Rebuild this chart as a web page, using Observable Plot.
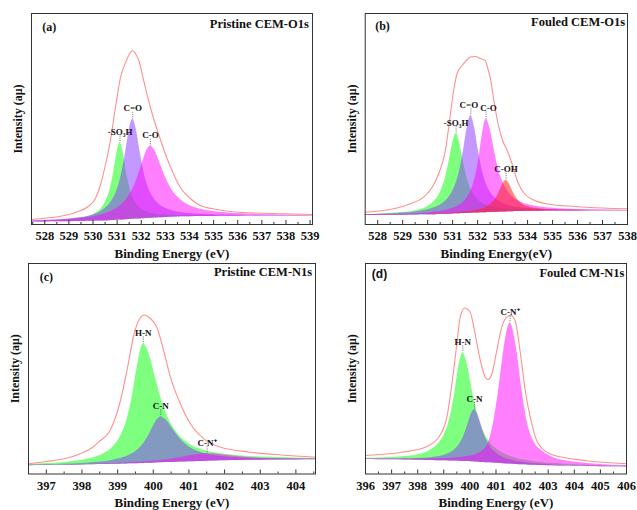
<!DOCTYPE html>
<html><head><meta charset="utf-8">
<script src="https://cdn.jsdelivr.net/npm/d3@7"></script>
<script src="https://cdn.jsdelivr.net/npm/@observablehq/plot@0.6"></script>
<style>
body{margin:0;background:#fff;}
#fig{position:relative;width:637px;height:510px;background:#fff;overflow:hidden;}
.panel{position:absolute;}
</style></head><body><div id="fig"></div>
<script>
// ---------- Panel (a) Pristine CEM-O1s ----------
const a_x = [527.45, 528, 528.5, 529, 529.5, 530, 530.3, 530.5, 530.7, 530.85, 531, 531.12, 531.25, 531.4, 531.52, 531.65, 531.8, 531.95, 532.1, 532.25, 532.38, 532.55, 532.75, 533, 533.25, 533.5, 533.75, 534, 534.5, 535, 535.5, 536, 537, 538, 539.1];
const a_base = [2.5, 2.6, 2.7, 2.8, 3.0, 3.2, 3.4, 3.6, 3.8, 4.0, 4.2, 4.4, 4.6, 4.8, 5.0, 5.2, 5.4, 5.6, 5.8, 6.0, 6.2, 6.5, 6.8, 7.1, 7.3, 7.5, 7.7, 7.8, 8.0, 8.1, 8.2, 8.3, 8.4, 8.5, 8.5];
const a_SO3H = [3.2, 3.5, 4.0, 4.7, 6.3, 9.7, 14.7, 21.4, 34.2, 51.2, 72.6, 81.4, 71.8, 50.7, 37.3, 27.6, 20.8, 16.7, 14.1, 12.4, 11.4, 10.6, 10.0, 9.5, 9.2, 9.0, 9.0, 8.9, 8.8, 8.7, 8.7, 8.7, 8.7, 8.7, 8.6];
const a_CdO = [3.5, 4.0, 4.5, 5.4, 6.9, 9.6, 12.6, 15.9, 20.8, 26.4, 34.6, 44.1, 58.2, 79.5, 96.6, 105.2, 94.6, 72.9, 53.5, 39.9, 32.0, 25.1, 20.1, 16.3, 14.0, 12.6, 11.7, 11.0, 10.2, 9.7, 9.4, 9.3, 9.0, 9.0, 8.8];
const a_CO = [3.6, 4.0, 4.5, 5.2, 6.2, 7.8, 9.3, 10.7, 12.4, 14.2, 16.3, 18.4, 21.3, 25.4, 29.7, 35.3, 43.8, 54.2, 65.6, 75.0, 78.2, 74.5, 63.1, 47.5, 35.6, 27.7, 22.6, 19.1, 15.1, 12.9, 11.7, 10.9, 10.0, 9.6, 9.3];
const a_envX = [527.45, 528, 528.6, 529.3, 529.8, 530.1, 530.3, 530.5, 530.7, 530.93, 531.14, 531.35, 531.5, 531.63, 531.78, 531.9, 532.1, 532.38, 532.75, 533.17, 533.62, 534.03, 534.45, 535.14, 536.2, 537.9, 539.1];
const a_envY = [5, 6.3, 8, 12.3, 18, 26, 39, 58, 81, 117, 147, 162, 170, 174, 170, 164, 144, 117, 88, 60, 37, 26, 19, 15, 12, 10.7, 10];
const a_labelText = ["-SO\u2083H", "C=O", "C-O"];
const a_labelX = [531.12, 531.65, 532.38];
const a_labelY = [81.4, 105.2, 78.2];
const a_labelShift = [0, 0, 0];
const a_ticks = [528, 529, 530, 531, 532, 533, 534, 535, 536, 537, 538, 539];

// ---------- Panel (b) Fouled CEM-O1s ----------
const b_x = [527.5, 528, 528.5, 529, 529.5, 530, 530.3, 530.5, 530.7, 530.85, 531, 531.14, 531.28, 531.42, 531.58, 531.73, 531.88, 532.02, 532.18, 532.34, 532.5, 532.65, 532.8, 532.95, 533.05, 533.14, 533.25, 533.4, 533.6, 533.8, 534, 534.5, 535, 535.5, 536, 537, 538];
const b_base = [9.0, 9.1, 9.2, 9.3, 9.5, 9.7, 9.85, 10.0, 10.2, 10.35, 10.5, 10.65, 10.8, 10.9, 11.1, 11.2, 11.4, 11.5, 11.7, 11.85, 12.0, 12.15, 12.3, 12.45, 12.55, 12.6, 12.7, 12.8, 12.95, 13.1, 13.2, 13.35, 13.5, 13.55, 13.6, 13.65, 13.7];
const b_SO3H = [9.9, 10.3, 10.9, 11.9, 13.8, 18.1, 24.1, 31.7, 45.4, 61.9, 81.4, 90.7, 81.7, 63.7, 46.3, 35.5, 28.8, 24.6, 21.6, 19.5, 18.1, 17.2, 16.5, 16.0, 15.8, 15.5, 15.3, 15.1, 14.9, 14.8, 14.7, 14.4, 14.3, 14.2, 14.1, 14.0, 14.0];
const b_CdO = [9.9, 10.2, 10.7, 11.4, 12.5, 14.7, 16.9, 19.3, 23.0, 27.1, 33.0, 41.4, 53.8, 71.8, 96.6, 108.7, 96.9, 75.4, 54.7, 41.2, 32.7, 27.7, 24.2, 21.9, 20.8, 19.9, 19.0, 18.1, 17.2, 16.6, 16.1, 15.3, 14.9, 14.6, 14.5, 14.2, 14.1];
const b_CO = [9.5, 9.7, 9.9, 10.3, 10.8, 11.6, 12.4, 13.1, 14.1, 15.0, 16.2, 17.6, 19.5, 22.1, 26.7, 33.4, 44.4, 61.1, 88.3, 105.4, 95.4, 76.5, 59.1, 46.4, 40.3, 35.9, 31.7, 27.6, 24.0, 21.5, 19.9, 17.4, 16.2, 15.5, 15.1, 14.6, 14.3];
const b_COH = [9.1, 9.3, 9.4, 9.6, 9.8, 10.1, 10.4, 10.6, 10.9, 11.1, 11.4, 11.7, 12.0, 12.2, 12.7, 13.1, 13.8, 14.5, 15.6, 17.2, 19.6, 23.2, 29.0, 37.1, 42.3, 44.1, 41.5, 33.5, 25.0, 20.3, 17.9, 15.4, 14.6, 14.3, 14.1, 13.9, 13.9];
const b_envX = [527.5, 528.64, 529.31, 529.84, 530.18, 530.44, 530.71, 530.91, 531.04, 531.18, 531.38, 531.55, 531.71, 531.91, 532.1, 532.3, 532.42, 532.52, 532.65, 532.8, 533.0, 533.2, 533.4, 533.6, 533.85, 534.2, 534.8, 535.9, 537, 538];
const b_envY = [12.3, 15.7, 20.7, 27.3, 37.3, 50.7, 74, 110, 134, 151, 159, 164, 167.5, 168, 166, 164, 155, 145, 124, 103, 84, 73, 59, 43, 31.5, 25, 20.5, 18, 16.5, 15.7];
const b_labelText = ["-SO\u2083H", "C=O", "C-O", "C-OH"];
const b_labelX = [531.14, 531.73, 532.34, 533.14];
const b_labelY = [90.7, 108.7, 105.4, 44.1];
const b_labelShift = [0, -2, 2.5, 0];
const b_ticks = [528, 529, 530, 531, 532, 533, 534, 535, 536, 537, 538];

// ---------- Panel (c) Pristine CEM-N1s ----------
const c_x = [396.5, 397, 397.5, 398, 398.3, 398.6, 398.85, 399.05, 399.25, 399.4, 399.55, 399.72, 399.88, 400.05, 400.21, 400.38, 400.55, 400.75, 401, 401.25, 401.5, 401.75, 402, 402.5, 403, 403.5, 404, 404.55];
const c_base = [8.3, 8.5, 8.7, 9.0, 9.2, 9.4, 9.65, 9.85, 10.05, 10.2, 10.35, 10.5, 10.7, 10.95, 11.2, 11.4, 11.6, 11.9, 12.2, 12.5, 12.8, 13.05, 13.3, 13.55, 13.8, 13.95, 14.1, 14.2];
const c_HN = [9.7, 10.5, 11.6, 13.7, 16.0, 20.0, 26.3, 35.5, 52.8, 75.3, 107.1, 130.0, 120.6, 98.0, 76.7, 59.3, 47.2, 37.7, 30.3, 25.7, 22.8, 21.0, 19.7, 17.9, 17.0, 16.4, 16.0, 15.7];
const c_CN = [8.9, 9.3, 9.8, 10.6, 11.3, 12.3, 13.6, 15.2, 17.4, 19.9, 23.6, 29.9, 39.0, 51.0, 57.0, 53.2, 44.7, 35.2, 27.2, 22.5, 19.9, 18.2, 17.3, 16.1, 15.5, 15.2, 15.1, 14.9];
const c_CNp = [8.6, 8.8, 9.1, 9.5, 9.8, 10.1, 10.4, 10.8, 11.1, 11.4, 11.7, 12.0, 12.5, 13.0, 13.6, 14.3, 15.1, 16.3, 17.9, 19.4, 20.3, 20.1, 19.1, 17.0, 15.8, 15.2, 15.0, 14.8];
const c_envX = [396.5, 397.0, 397.5, 398.0, 398.27, 398.5, 398.78, 399.08, 399.28, 399.46, 399.6, 399.75, 399.9, 400.1, 400.29, 400.48, 400.76, 401.04, 401.42, 401.89, 402.73, 403.6, 404.55];
const c_envY = [10.3, 12.5, 15.2, 21, 26, 33, 43, 73.5, 106.8, 140, 154, 159, 156, 146.8, 123.5, 96.8, 70.2, 50.2, 35.2, 26.8, 21.8, 19, 16.8];
const c_labelText = ["H-N", "C-N", "C-N\u207A"];
const c_labelX = [399.72, 400.21, 401.51];
const c_labelY = [130.0, 57.0, 20.3];
const c_labelShift = [0, 0, 0];
const c_ticks = [397, 398, 399, 400, 401, 402, 403, 404];

// ---------- Panel (d) Fouled CM-N1s ----------
const d_x = [396, 396.5, 397, 397.5, 398, 398.4, 398.75, 399, 399.2, 399.4, 399.58, 399.73, 399.9, 400.05, 400.18, 400.35, 400.5, 400.7, 400.9, 401.1, 401.3, 401.54, 401.8, 402, 402.2, 402.5, 402.8, 403.2, 403.6, 404, 404.5, 405, 405.5, 406];
const d_base = [14.5, 14.35, 14.2, 14.0, 13.8, 13.55, 13.35, 13.2, 13.05, 12.9, 12.75, 12.6, 12.4, 12.25, 12.1, 11.85, 11.5, 11.2, 11.0, 10.7, 10.35, 10.0, 9.6, 9.3, 9.1, 8.8, 8.5, 8.2, 7.9, 7.7, 7.5, 7.3, 7.15, 7.0];
const d_HN = [15.7, 16.0, 16.5, 17.4, 19.3, 22.6, 28.9, 38.3, 52.5, 77.5, 108.0, 121.1, 109.7, 89.3, 72.0, 54.6, 43.7, 34.0, 27.7, 23.5, 20.4, 17.7, 15.6, 14.3, 13.4, 12.2, 11.3, 10.4, 9.7, 9.2, 8.7, 8.3, 8.0, 7.7];
const d_CN = [15.0, 15.0, 15.0, 15.2, 15.5, 16.1, 17.2, 18.6, 20.6, 23.8, 28.9, 35.7, 47.6, 59.7, 64.5, 56.3, 43.5, 30.7, 23.4, 19.1, 16.3, 14.2, 12.6, 11.7, 11.1, 10.3, 9.7, 9.1, 8.6, 8.3, 8.0, 7.7, 7.5, 7.3];
const d_CNp = [15.0, 15.0, 15.0, 15.0, 15.0, 15.1, 15.3, 15.4, 15.7, 16.0, 16.4, 16.8, 17.4, 18.3, 19.1, 20.9, 23.5, 30.5, 50.2, 83.5, 123.5, 150.8, 123.5, 83.0, 51.5, 30.2, 22.5, 16.3, 13.6, 12.0, 10.5, 9.5, 8.8, 8.4];
const d_envX = [396, 397.4, 398.29, 398.8, 399.12, 399.31, 399.5, 399.63, 399.8, 400.01, 400.2, 400.4, 400.59, 400.7, 400.84, 401.03, 401.22, 401.41, 401.56, 401.73, 401.92, 402.12, 402.37, 402.62, 403.13, 404.41, 406];
const d_envY = [18.5, 21.8, 26.8, 36.8, 56.8, 90, 130, 156.8, 166, 161.8, 140, 113.3, 96.8, 94.5, 100, 123.5, 146.8, 156.8, 158.5, 153.5, 123.5, 83.5, 50.2, 30.2, 19.5, 13.5, 10.2];
const d_labelText = ["H-N", "C-N", "C-N\u207A"];
const d_labelX = [399.73, 400.18, 401.54];
const d_labelY = [121.1, 64.5, 150.8];
const d_labelShift = [0, 0, 0];
const d_ticks = [396, 397, 398, 399, 400, 401, 402, 403, 404, 405, 406];

// ---------- styling ----------
const SERIF = "'Liberation Serif','Times New Roman',serif";
const SANS = "'Liberation Sans',Arial,sans-serif";
const GREEN = "#00ff00", PURPLE = "#8833ff", MAGENTA = "#ff00ff", RED = "#ff2020";
const ENV = "#ff9090";

function makePanel(p) {
  const fh = p.height - p.mt - p.mb;
  const rows = (vals) => p.x.map((x, i) => ({x, b: p.base[i], v: vals[i]}));
  const marks = [];
  p.comps.forEach(c => {
    marks.push(Plot.areaY(rows(c.v), {x: "x", y1: "b", y2: "v", fill: c.color, fillOpacity: c.op ?? 0.5, curve: "monotone-x"}));
  });
  marks.push(Plot.line(p.envX.map((x, i) => ({x, y: p.envY[i]})), {x: "x", y: "y", stroke: ENV, strokeWidth: 1.1, curve: "monotone-x"}));
  const labels = p.labelText.map((t, i) => ({t, x: p.labelX[i], y: p.labelY[i], s: p.labelShift[i]}));
  marks.push(Plot.ruleX(labels, {x: "x", y1: "y", y2: "y", insetTop: -7, stroke: "#444", strokeWidth: 0.8, strokeDasharray: "1,1.2"}));
  labels.forEach(l => {
    marks.push(Plot.text([l], {x: "x", y: "y", text: "t", dx: l.s, dy: -8, lineAnchor: "bottom", fontSize: 9, fontWeight: "bold", fontFamily: SERIF, fill: "#111"}));
  });
  const minors = p.ticks.map(t => t - 0.5).concat([p.ticks[p.ticks.length - 1] + 0.5]).filter(t => t > p.domain[0] && t < p.domain[1]);
  marks.push(Plot.ruleX(p.ticks, {x: d => d, y1: 0, y2: 0, insetTop: -4, stroke: "#333", strokeWidth: 1}));
  marks.push(Plot.ruleX(minors, {x: d => d, y1: 0, y2: 0, insetTop: -2, stroke: "#333", strokeWidth: 1}));
  marks.push(Plot.frame({stroke: "#333", strokeWidth: 1}));
  marks.push(Plot.axisX({ticks: p.ticks, tickSize: 0, tickPadding: 7, tickFormat: d => String(d), fontSize: 12.5, fontWeight: "bold", fontFamily: SERIF, label: null, fill: "#111"}));
  marks.push(Plot.text([p.xTitle], {frameAnchor: "bottom", dy: 33, textAnchor: "middle", fontSize: 13, fontWeight: "bold", fontFamily: SERIF, fill: "#111"}));
  marks.push(Plot.text(["Intensity (a\u03bc)"], {frameAnchor: "left", dx: -13, rotate: -90, textAnchor: "middle", lineAnchor: "middle", fontSize: 12, fontWeight: "bold", fontFamily: SERIF, fill: "#111"}));
  marks.push(Plot.text([p.letter], {frameAnchor: "top-left", dx: p.letterDx, dy: p.letterDy, textAnchor: "start", lineAnchor: "top", fontSize: 12, fontWeight: "bold", fontFamily: p.letterFont, fill: "#111"}));
  marks.push(Plot.text([p.title], {frameAnchor: "top-right", dx: p.titleDx, dy: p.titleDy, textAnchor: "end", lineAnchor: "top", fontSize: 12.5, fontWeight: "bold", fontFamily: SERIF, fill: "#111"}));
  const svg = Plot.plot({
    width: p.width, height: p.height,
    marginLeft: p.ml, marginRight: p.mr, marginTop: p.mt, marginBottom: p.mb,
    x: {domain: p.domain, label: null},
    y: {domain: [0, fh], axis: null, label: null},
    style: {background: "transparent", overflow: "visible", fontFamily: SERIF, fontWeight: "bold"},
    marks
  });
  const div = document.createElement("div");
  div.className = "panel";
  div.style.left = p.left + "px";
  div.style.top = p.top + "px";
  div.appendChild(svg);
  document.getElementById("fig").appendChild(div);
}

makePanel({left: 0, top: 0, width: 318, height: 262, ml: 31, mr: 6, mt: 13, mb: 38,
  domain: [527.45, 539.1], x: a_x, base: a_base,
  comps: [{v: a_SO3H, color: GREEN}, {v: a_CdO, color: PURPLE}, {v: a_CO, color: MAGENTA}],
  envX: a_envX, envY: a_envY, labelText: a_labelText, labelX: a_labelX, labelY: a_labelY, labelShift: a_labelShift,
  ticks: a_ticks, xTitle: "Binding Energy (eV)", letter: "(a)", letterFont: SERIF, letterDx: 10.7, letterDy: 8.5,
  title: "Pristine CEM-O1s", titleDx: -3.7, titleDy: 5.5});

makePanel({left: 318, top: 0, width: 319, height: 262, ml: 46.7, mr: 10, mt: 13, mb: 38,
  domain: [527.5, 538], x: b_x, base: b_base,
  comps: [{v: b_SO3H, color: GREEN}, {v: b_CdO, color: PURPLE}, {v: b_CO, color: MAGENTA}, {v: b_COH, color: RED, op: 0.55}],
  envX: b_envX, envY: b_envY, labelText: b_labelText, labelX: b_labelX, labelY: b_labelY, labelShift: b_labelShift,
  ticks: b_ticks, xTitle: "Binding Energy(eV)", letter: "(b)", letterFont: SERIF, letterDx: 10, letterDy: 7.5,
  title: "Fouled CEM-O1s", titleDx: -2.3, titleDy: 4});

makePanel({left: 0, top: 262, width: 318, height: 248, ml: 28, mr: 3, mt: 1, mb: 36.5,
  domain: [396.5, 404.55], x: c_x, base: c_base,
  comps: [{v: c_HN, color: GREEN}, {v: c_CN, color: PURPLE}, {v: c_CNp, color: MAGENTA}],
  envX: c_envX, envY: c_envY, labelText: c_labelText, labelX: c_labelX, labelY: c_labelY, labelShift: c_labelShift,
  ticks: c_ticks, xTitle: "Binding Energy (eV)", letter: "(c)", letterFont: SERIF, letterDx: 11.3, letterDy: 8.5,
  title: "Pristine CEM-N1s", titleDx: -3.3, titleDy: 4});

makePanel({left: 318, top: 262, width: 319, height: 248, ml: 47, mr: 11, mt: 1, mb: 36.5,
  domain: [396, 406], x: d_x, base: d_base,
  comps: [{v: d_HN, color: GREEN}, {v: d_CN, color: PURPLE}, {v: d_CNp, color: MAGENTA}],
  envX: d_envX, envY: d_envY, labelText: d_labelText, labelX: d_labelX, labelY: d_labelY, labelShift: d_labelShift,
  ticks: d_ticks, xTitle: "Binding Energy (eV)", letter: "(d)", letterFont: SANS, letterDx: 6.3, letterDy: 5.5,
  title: "Fouled CM-N1s", titleDx: -2, titleDy: 4.5});
</script></body></html>
